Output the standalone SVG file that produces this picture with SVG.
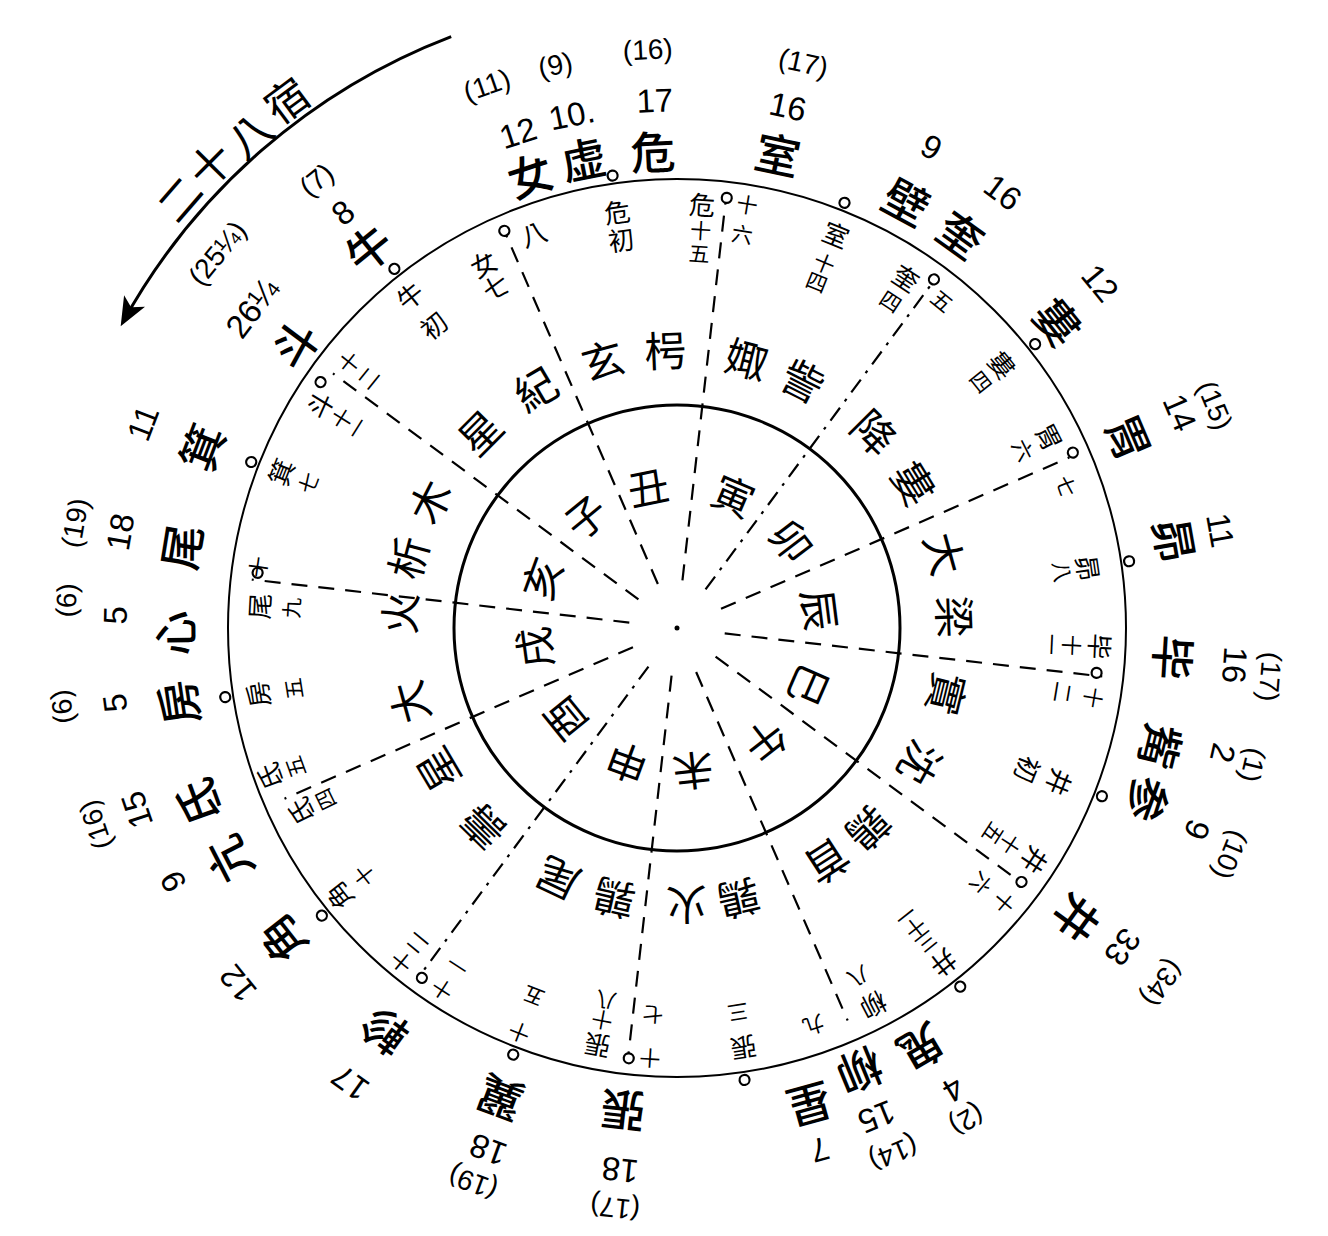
<svg xmlns="http://www.w3.org/2000/svg" width="1328" height="1236" viewBox="0 0 1328 1236">
<style>
.ring{fill:none;stroke:#000;stroke-width:2}
.inner{fill:none;stroke:#000;stroke-width:3}
.ds{stroke:#000;stroke-width:2.2;stroke-dasharray:16 11;fill:none}
.dd{stroke:#000;stroke-width:2.2;stroke-dasharray:16 8 3 8;fill:none}
.mk{fill:#fff;stroke:#000;stroke-width:2.2}
text{font-family:"Noto Sans CJK TC","Noto Sans CJK SC",sans-serif;fill:#000;text-anchor:middle;dominant-baseline:central}
.m{font-size:45px;font-weight:500}
.n{font-family:"Liberation Sans",sans-serif;font-size:33px}
.p{font-family:"Liberation Sans",sans-serif;font-size:28px}
.st{font-size:42px}
.br{font-size:41px}
.s{font-size:26px}
.s2{font-size:21px}
.t{font-size:43px}
</style>
<defs>
<marker id="ah" viewBox="0 0 12 10" refX="10" refY="5" markerWidth="30" markerHeight="24" markerUnits="userSpaceOnUse" orient="auto">
<path d="M0,0 L12,5 L0,10 L3,5 z" fill="#000"/>
</marker>
</defs>
<rect width="1328" height="1236" fill="#fff"/>

<g id="title">
<path d="M 451.2 36.6 A 633 633 0 0 0 123 322" fill="none" stroke="#000" stroke-width="3" marker-end="url(#ah)"/>
<text class="t" transform="rotate(310.8 677 628)" x="677" y="-32">二</text>
<text class="t" transform="rotate(314.8 677 628)" x="677" y="-32">十</text>
<text class="t" transform="rotate(319.1 677 628)" x="677" y="-27">八</text>
<text class="t" transform="rotate(323.5 677 628)" x="677" y="-31">宿</text>
</g>

<g id="circles">
<circle class="ring" cx="677" cy="628" r="449"/>
<circle class="inner" cx="677" cy="628" r="223"/>
<circle cx="677" cy="628" r="2.5" fill="#000"/>
</g>

<g id="connectors">
<line class="ds" x1="677" y1="580" x2="677" y2="200" transform="rotate(306.5 677 628)"/>
<line class="ds" x1="677" y1="580" x2="677" y2="200" transform="rotate(336.5 677 628)"/>
<line class="ds" x1="677" y1="580" x2="677" y2="200" transform="rotate(6.5 677 628)"/>
<line class="dd" x1="677" y1="580" x2="677" y2="200" transform="rotate(36.5 677 628)"/>
<line class="ds" x1="677" y1="580" x2="677" y2="200" transform="rotate(66.5 677 628)"/>
<line class="ds" x1="677" y1="580" x2="677" y2="200" transform="rotate(96.5 677 628)"/>
<line class="ds" x1="677" y1="580" x2="677" y2="200" transform="rotate(126.5 677 628)"/>
<line class="ds" x1="677" y1="580" x2="677" y2="200" transform="rotate(156.5 677 628)"/>
<line class="ds" x1="677" y1="580" x2="677" y2="200" transform="rotate(186.5 677 628)"/>
<line class="dd" x1="677" y1="580" x2="677" y2="200" transform="rotate(216.5 677 628)"/>
<line class="ds" x1="677" y1="580" x2="677" y2="200" transform="rotate(246.5 677 628)"/>
<line class="ds" x1="677" y1="580" x2="677" y2="200" transform="rotate(276.5 677 628)"/>
</g>

<g id="markers">
<circle class="mk" cx="677" cy="171" r="5" transform="rotate(321.8 677 628)"/>
<circle class="mk" cx="677" cy="171" r="5" transform="rotate(351.9 677 628)"/>
<circle class="mk" cx="677" cy="171" r="5" transform="rotate(21.5 677 628)"/>
<circle class="mk" cx="677" cy="171" r="5" transform="rotate(51.6 677 628)"/>
<circle class="mk" cx="677" cy="171" r="5" transform="rotate(81.6 677 628)"/>
<circle class="mk" cx="677" cy="171" r="5" transform="rotate(111.6 677 628)"/>
<circle class="mk" cx="677" cy="171" r="5" transform="rotate(141.7 677 628)"/>
<circle class="mk" cx="677" cy="171" r="5" transform="rotate(171.5 677 628)"/>
<circle class="mk" cx="677" cy="171" r="5" transform="rotate(201 677 628)"/>
<circle class="mk" cx="677" cy="171" r="5" transform="rotate(231 677 628)"/>
<circle class="mk" cx="677" cy="171" r="5" transform="rotate(261.3 677 628)"/>
<circle class="mk" cx="677" cy="171" r="5" transform="rotate(291.3 677 628)"/>
<circle class="mk" cx="677" cy="195" r="5" transform="rotate(304.6 677 628)"/>
<circle class="mk" cx="677" cy="195" r="5" transform="rotate(336.5 677 628)"/>
<circle class="mk" cx="677" cy="195" r="5" transform="rotate(6.6 677 628)"/>
<circle class="mk" cx="677" cy="195" r="5" transform="rotate(36.4 677 628)"/>
<circle class="mk" cx="677" cy="195" r="5" transform="rotate(66.1 677 628)"/>
<circle class="mk" cx="677" cy="206" r="5" transform="rotate(96.1 677 628)"/>
<circle class="mk" cx="677" cy="200" r="5" transform="rotate(126.4 677 628)"/>
<circle class="mk" cx="677" cy="195" r="5" transform="rotate(186.4 677 628)"/>
<circle class="mk" cx="677" cy="195" r="5" transform="rotate(216.1 677 628)"/>
<circle class="mk" cx="677" cy="205" r="5" transform="rotate(277.5 677 628)"/>
</g>

<g id="mansions">
<g id="m-nv"><text class="m" transform="rotate(342 677 628)" x="677" y="150">女</text><text class="n" transform="rotate(342.2 677 628)" x="677" y="108">12</text><text class="p" transform="rotate(340.7 677 628)" x="677" y="53">(11)</text></g>
<g id="m-xu"><text class="m" transform="rotate(348.7 677 628)" x="677" y="148">虚</text><text class="n" transform="rotate(348.4 677 628)" x="677" y="104">10.</text><text class="p" transform="rotate(347.8 677 628)" x="677" y="52">(9)</text></g>
<g id="m-wei"><text class="m" transform="rotate(357.1 677 628)" x="677" y="149">危</text><text class="n" transform="rotate(357.6 677 628)" x="677" y="100">17</text><text class="p" transform="rotate(357.1 677 628)" x="677" y="49">(16)</text></g>
<g id="m-shi"><text class="m" transform="rotate(12 677 628)" x="677" y="142">室</text><text class="n" transform="rotate(12 677 628)" x="677" y="95">16</text><text class="p" transform="rotate(12.6 677 628)" x="677" y="49">(17)</text></g>
<g id="m-bi"><text class="m" transform="rotate(28.3 677 628)" x="677" y="142">壁</text><text class="n" transform="rotate(27.9 677 628)" x="677" y="84">9</text></g>
<g id="m-kui"><text class="m" transform="rotate(35.8 677 628)" x="677" y="141">奎</text><text class="n" transform="rotate(36.8 677 628)" x="677" y="84">16</text></g>
<g id="m-lou"><text class="m" transform="rotate(51.2 677 628)" x="677" y="137">婁</text><text class="n" transform="rotate(50.8 677 628)" x="677" y="82">12</text></g>
<g id="m-wei2"><text class="m" transform="rotate(67.1 677 628)" x="677" y="136">胃</text><text class="n" transform="rotate(66.8 677 628)" x="677" y="81">14</text><text class="p" transform="rotate(67.5 677 628)" x="677" y="46">(15)</text></g>
<g id="m-mao"><text class="m" transform="rotate(80 677 628)" x="677" y="121">昴</text><text class="n" transform="rotate(79.8 677 628)" x="677" y="76">11</text></g>
<g id="m-bi2"><text class="m" transform="rotate(93.4 677 628)" x="677" y="129">毕</text><text class="n" transform="rotate(93.8 677 628)" x="677" y="69">16</text><text class="p" transform="rotate(94.7 677 628)" x="677" y="33">(17)</text></g>
<g id="m-zi"><text class="m" transform="rotate(103.8 677 628)" x="677" y="128">觜</text><text class="n" transform="rotate(102.9 677 628)" x="677" y="68">2</text><text class="p" transform="rotate(103.4 677 628)" x="677" y="36">(1)</text></g>
<g id="m-shen"><text class="m" transform="rotate(110 677 628)" x="677" y="125">参</text><text class="n" transform="rotate(111.2 677 628)" x="677" y="70">9</text><text class="p" transform="rotate(112.3 677 628)" x="677" y="30">(10)</text></g>
<g id="m-jing"><text class="m" transform="rotate(126 677 628)" x="677" y="132">井</text><text class="n" transform="rotate(125.6 677 628)" x="677" y="80">33</text><text class="p" transform="rotate(126.2 677 628)" x="677" y="27">(34)</text></g>
<g id="m-gui"><text class="m" transform="rotate(149.8 677 628)" x="677" y="140">鬼</text><text class="n" transform="rotate(149.1 677 628)" x="677" y="90">4</text><text class="p" transform="rotate(149.5 677 628)" x="677" y="57">(2)</text></g>
<g id="m-liu"><text class="m" transform="rotate(157.6 677 628)" x="677" y="147">柳</text><text class="n" transform="rotate(157.8 677 628)" x="677" y="100">15</text><text class="p" transform="rotate(157.6 677 628)" x="677" y="60">(14)</text></g>
<g id="m-xing"><text class="m" transform="rotate(164.5 677 628)" x="677" y="131">星</text><text class="n" transform="rotate(164.7 677 628)" x="677" y="87">7</text></g>
<g id="m-zhang"><text class="m" transform="rotate(186.4 677 628)" x="677" y="140">張</text><text class="n" transform="rotate(186 677 628)" x="677" y="83">18</text><text class="p" transform="rotate(186.1 677 628)" x="677" y="45">(17)</text></g>
<g id="m-yi"><text class="m" transform="rotate(200.6 677 628)" x="677" y="124">翼</text><text class="n" transform="rotate(199.9 677 628)" x="677" y="73">18</text><text class="p" transform="rotate(200.2 677 628)" x="677" y="37">(19)</text></g>
<g id="m-zhen"><text class="m" transform="rotate(216 677 628)" x="677" y="128">軫</text><text class="n" transform="rotate(215.7 677 628)" x="677" y="68">17</text></g>
<g id="m-jiao"><text class="m" transform="rotate(231.8 677 628)" x="677" y="123">角</text><text class="n" transform="rotate(231 677 628)" x="677" y="63">12</text></g>
<g id="m-kang"><text class="m" transform="rotate(242.7 677 628)" x="677" y="122">亢</text><text class="n" transform="rotate(243.3 677 628)" x="677" y="64">9</text></g>
<g id="m-di"><text class="m" transform="rotate(250 677 628)" x="677" y="117">氐</text><text class="n" transform="rotate(251.4 677 628)" x="677" y="58">15</text><text class="p" transform="rotate(251.3 677 628)" x="677" y="14">(16)</text></g>
<g id="m-fang"><text class="m" transform="rotate(261.5 677 628)" x="677" y="122">房</text><text class="n" transform="rotate(262.4 677 628)" x="677" y="61">5</text><text class="p" transform="rotate(262.7 677 628)" x="677" y="8">(6)</text></g>
<g id="m-xin"><text class="m" transform="rotate(269.4 677 628)" x="677" y="124">心</text><text class="n" transform="rotate(271.3 677 628)" x="677" y="66">5</text><text class="p" transform="rotate(272.6 677 628)" x="677" y="17">(6)</text></g>
<g id="m-wei3"><text class="m" transform="rotate(279.3 677 628)" x="677" y="124">尾</text><text class="n" transform="rotate(279.8 677 628)" x="677" y="63">18</text><text class="p" transform="rotate(279.9 677 628)" x="677" y="17">(19)</text></g>
<g id="m-ji"><text class="m" transform="rotate(290.8 677 628)" x="677" y="118">箕</text><text class="n" transform="rotate(291 677 628)" x="677" y="56">11</text></g>
<g id="m-dou"><text class="m" transform="rotate(306.6 677 628)" x="677" y="150">斗</text><text class="n" transform="rotate(307 677 628)" x="677" y="96">26¼</text><text class="p" transform="rotate(309.2 677 628)" x="677" y="35">(25¼)</text></g>
<g id="m-niu"><text class="m" transform="rotate(320.9 677 628)" x="677" y="137">牛</text><text class="n" transform="rotate(321.2 677 628)" x="677" y="95">8</text><text class="p" transform="rotate(321.2 677 628)" x="677" y="53">(7)</text></g>
</g>

<g id="degree-labels">
<text transform="rotate(321.2 677 628)"><tspan class="s" x="677" y="200">牛</tspan><tspan class="s" x="677" y="238">初</tspan></text>
<text transform="rotate(332 677 628)"><tspan class="s" x="677" y="214">女</tspan><tspan class="s" x="677" y="240">七</tspan></text>
<text class="s" transform="rotate(340 677 628)" x="677" y="207">八</text>
<text transform="rotate(351.8 677 628)"><tspan class="s" x="677" y="206">危</tspan><tspan class="s" x="677" y="234">初</tspan></text>
<text transform="rotate(3.4 677 628)"><tspan class="s" x="677" y="202">危</tspan><tspan class="s2" x="677" y="229">十</tspan><tspan class="s2" x="677" y="252">五</tspan></text>
<text transform="rotate(9.4 677 628)"><tspan class="s2" x="677" y="198">十</tspan><tspan class="s2" x="677" y="228">六</tspan></text>
<text transform="rotate(22 677 628)"><tspan class="s" x="677" y="202">室</tspan><tspan class="s2" x="677" y="234">十</tspan><tspan class="s2" x="677" y="254">四</tspan></text>
<text transform="rotate(33.2 677 628)"><tspan class="s" x="677" y="208">奎</tspan><tspan class="s2" x="677" y="237">四</tspan></text>
<text class="s2" transform="rotate(39 677 628)" x="677" y="206">五</text>
<text transform="rotate(51 677 628)"><tspan class="s" x="677" y="208">婁</tspan><tspan class="s2" x="677" y="236">四</tspan></text>
<text transform="rotate(62.8 677 628)"><tspan class="s" x="677" y="208">胃</tspan><tspan class="s2" x="677" y="238">六</tspan></text>
<text class="s2" transform="rotate(70 677 628)" x="677" y="213">七</text>
<text transform="rotate(81.7 677 628)"><tspan class="s" x="677" y="211">昴</tspan><tspan class="s2" x="677" y="238">八</tspan></text>
<text transform="rotate(92.5 677 628)"><tspan class="s" x="677" y="203">毕</tspan><tspan class="s2" x="677" y="232">十</tspan><tspan class="s2" x="677" y="252">一</tspan></text>
<text transform="rotate(99.5 677 628)"><tspan class="s2" x="677" y="205">十</tspan><tspan class="s2" x="677" y="236">二</tspan></text>
<text transform="rotate(112 677 628)"><tspan class="s" x="677" y="214">井</tspan><tspan class="s" x="677" y="248">初</tspan></text>
<text transform="rotate(123 677 628)"><tspan class="s" x="677" y="200">井</tspan><tspan class="s2" x="677" y="230">十</tspan><tspan class="s2" x="677" y="250">五</tspan></text>
<text transform="rotate(130 677 628)"><tspan class="s2" x="677" y="200">十</tspan><tspan class="s2" x="677" y="230">六</tspan></text>
<text transform="rotate(141.5 677 628)"><tspan class="s" x="677" y="198">井</tspan><tspan class="s2" x="677" y="226">三</tspan><tspan class="s2" x="677" y="244">十</tspan><tspan class="s2" x="677" y="260">一</tspan></text>
<text transform="rotate(152.5 677 628)"><tspan class="s" x="677" y="201">柳</tspan><tspan class="s2" x="677" y="234">八</tspan></text>
<text class="s2" transform="rotate(161 677 628)" x="677" y="207">九</text>
<text transform="rotate(171 677 628)"><tspan class="s" x="677" y="201">張</tspan><tspan class="s2" x="677" y="238">三</tspan></text>
<text transform="rotate(183.6 677 628)"><tspan class="s2" x="677" y="196">十</tspan><tspan class="s2" x="677" y="240">七</tspan></text>
<text transform="rotate(190.8 677 628)"><tspan class="s" x="677" y="201">張</tspan><tspan class="s2" x="677" y="228">十</tspan><tspan class="s2" x="677" y="248">八</tspan></text>
<text transform="rotate(201.3 677 628)"><tspan class="s2" x="677" y="193">十</tspan><tspan class="s2" x="677" y="232">五</tspan></text>
<text transform="rotate(213 677 628)"><tspan class="s2" x="677" y="196">十</tspan><tspan class="s2" x="677" y="224">一</tspan></text>
<text transform="rotate(219.5 677 628)"><tspan class="s2" x="677" y="194">十</tspan><tspan class="s2" x="677" y="218">二</tspan></text>
<text transform="rotate(231.6 677 628)"><tspan class="s" x="677" y="195">角</tspan><tspan class="s2" x="677" y="228">十</tspan></text>
<text transform="rotate(244 677 628)"><tspan class="s" x="677" y="208">氐</tspan><tspan class="s2" x="677" y="236">四</tspan></text>
<text transform="rotate(250 677 628)"><tspan class="s" x="677" y="193">氐</tspan><tspan class="s2" x="677" y="221">五</tspan></text>
<text transform="rotate(261 677 628)"><tspan class="s" x="677" y="202">房</tspan><tspan class="s2" x="677" y="239">五</tspan></text>
<text transform="rotate(273 677 628)"><tspan class="s" x="677" y="208">尾</tspan><tspan class="s2" x="677" y="241">九</tspan></text>
<text class="s2" transform="rotate(278.3 677 628)" x="677" y="204">十</text>
<text transform="rotate(291.5 677 628)"><tspan class="s" x="677" y="201">箕</tspan><tspan class="s2" x="677" y="231">七</tspan></text>
<text transform="rotate(302 677 628)"><tspan class="s" x="677" y="205">斗</tspan><tspan class="s2" x="677" y="232">十</tspan><tspan class="s2" x="677" y="250">一</tspan></text>
<text transform="rotate(309 677 628)"><tspan class="s2" x="677" y="205">十</tspan><tspan class="s2" x="677" y="230">二</tspan></text>
</g>

<g id="stations">
<g id="st-xingji"><text class="st" transform="rotate(314.8 677 628)" x="677" y="348">星</text><text class="st" transform="rotate(329.4 677 628)" x="677" y="348">紀</text></g>
<g id="st-xuanxiao"><text class="st" transform="rotate(344.5 677 628)" x="677" y="348">玄</text><text class="st" transform="rotate(357.6 677 628)" x="677" y="348">枵</text></g>
<g id="st-juzi"><text class="st" transform="rotate(14.5 677 628)" x="677" y="348">娵</text><text class="st" transform="rotate(27 677 628)" x="677" y="348">訾</text></g>
<g id="st-jianglou"><text class="st" transform="rotate(45.2 677 628)" x="677" y="348">降</text><text class="st" transform="rotate(58.5 677 628)" x="677" y="348">婁</text></g>
<g id="st-daliang"><text class="st" transform="rotate(74.5 677 628)" x="677" y="348">大</text><text class="st" transform="rotate(87.7 677 628)" x="677" y="348">梁</text></g>
<g id="st-shishen"><text class="st" transform="rotate(103.7 677 628)" x="677" y="348">實</text><text class="st" transform="rotate(119 677 628)" x="677" y="348">沈</text></g>
<g id="st-chunshou"><text class="st" transform="rotate(136.3 677 628)" x="677" y="348">鶉</text><text class="st" transform="rotate(147.2 677 628)" x="677" y="348">首</text></g>
<g id="st-chunhuo"><text class="st" transform="rotate(167.1 677 628)" x="677" y="348">鶉</text><text class="st" transform="rotate(178 677 628)" x="677" y="348">火</text></g>
<g id="st-chunwei"><text class="st" transform="rotate(193.1 677 628)" x="677" y="348">鶉</text><text class="st" transform="rotate(205.5 677 628)" x="677" y="348">尾</text></g>
<g id="st-shouxing"><text class="st" transform="rotate(224.3 677 628)" x="677" y="348">壽</text><text class="st" transform="rotate(239.4 677 628)" x="677" y="348">星</text></g>
<g id="st-dahuo"><text class="st" transform="rotate(254.5 677 628)" x="677" y="348">大</text><text class="st" transform="rotate(273 677 628)" x="677" y="348">火</text></g>
<g id="st-ximu"><text class="st" transform="rotate(284.7 677 628)" x="677" y="348">析</text><text class="st" transform="rotate(297.1 677 628)" x="677" y="348">木</text></g>
</g>

<g id="branches">
<text id="b-zi" class="br" transform="rotate(320.7 677 628)" x="677" y="482">子</text>
<text id="b-chou" class="br" transform="rotate(348.4 677 628)" x="677" y="482">丑</text>
<text id="b-yin" class="br" transform="rotate(23.2 677 628)" x="677" y="482">寅</text>
<text id="b-mao" class="br" transform="rotate(52.8 677 628)" x="677" y="482">卯</text>
<text id="b-chen" class="br" transform="rotate(82.8 677 628)" x="677" y="482">辰</text>
<text id="b-si" class="br" transform="rotate(113.5 677 628)" x="677" y="482">巳</text>
<text id="b-wu" class="br" transform="rotate(142 677 628)" x="677" y="482">午</text>
<text id="b-wei" class="br" transform="rotate(173.6 677 628)" x="677" y="482">未</text>
<text id="b-shen" class="br" transform="rotate(200.3 677 628)" x="677" y="482">申</text>
<text id="b-you" class="br" transform="rotate(230.9 677 628)" x="677" y="482">酉</text>
<text id="b-xu" class="br" transform="rotate(262.2 677 628)" x="677" y="482">戌</text>
<text id="b-hai" class="br" transform="rotate(290.1 677 628)" x="677" y="482">亥</text>
</g>
</svg>
